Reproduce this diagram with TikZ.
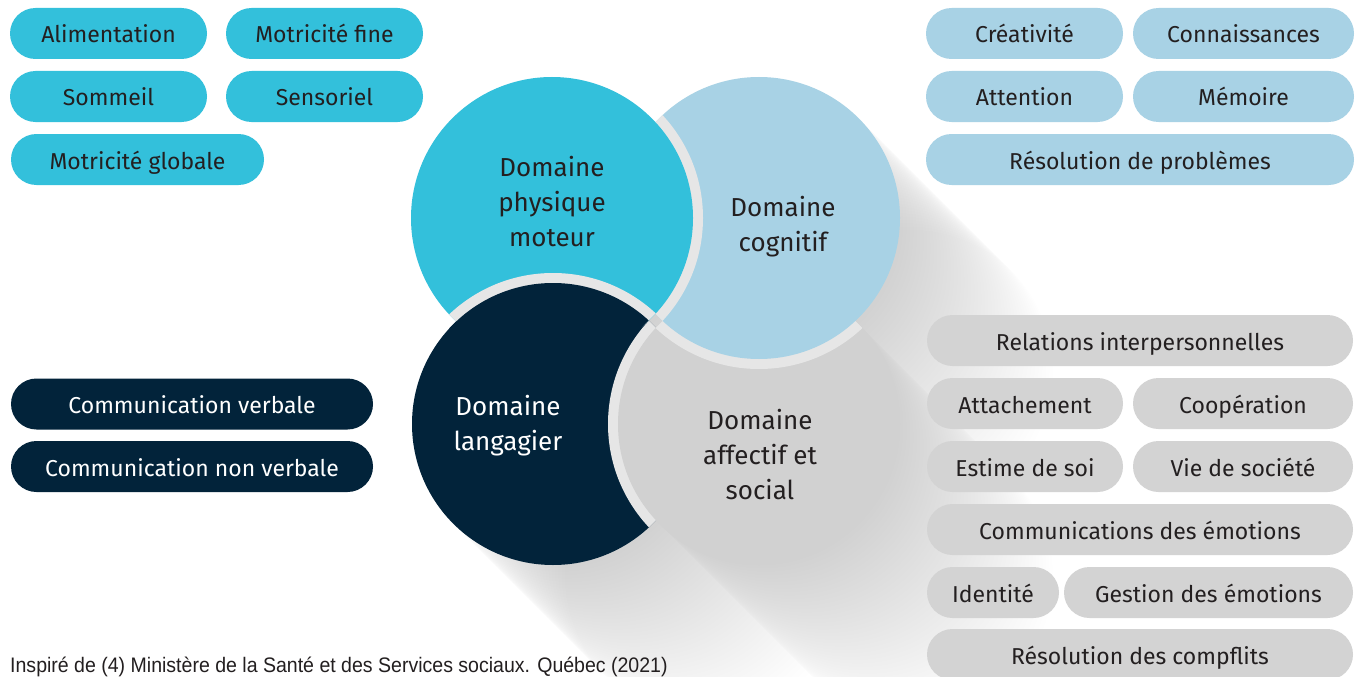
\documentclass[tikz,border=0pt]{standalone}
\usepackage{fontspec}
\setmainfont{Fira Sans}
\newfontfamily\capfont[FakeStretch=0.93]{Liberation Sans}
\definecolor{cyanc}{HTML}{33C0DB}
\definecolor{lbluec}{HTML}{A8D2E5}
\definecolor{navyc}{HTML}{02233A}
\definecolor{greyc}{HTML}{D1D1D1}
\definecolor{pillgrey}{HTML}{D3D3D3}
\definecolor{ringc}{HTML}{E6E6E6}
\definecolor{ink}{HTML}{231F20}
\newcommand\pillfont{\fontsize{23}{27}\selectfont}
\newcommand\domfont{\fontsize{26}{35}\selectfont}
\begin{document}
\begin{tikzpicture}[x=1pt,y=-1pt,
  pill/.style={rounded corners=25.5pt, minimum height=51pt, inner sep=0pt,
               text height=19pt, text depth=0pt,
               font=\pillfont, text=ink},
  phys/.style={pill, fill=cyanc},
  cogn/.style={pill, fill=lbluec},
  lang/.style={pill, fill=navyc, text=white},
  affe/.style={pill, fill=pillgrey},
  dom/.style={align=center, font=\domfont, text=ink, inner sep=0pt},
]
\useasboundingbox (0,0) rectangle (1355,677);
\clip (0,0) rectangle (1355,677);
\fill[white] (0,0) rectangle (1355,677);

% circle centres
\coordinate (cP) at (552,218);
\coordinate (cC) at (759,218);
\coordinate (cL) at (553,424);
\coordinate (cA) at (759,424);

% long diagonal shadow of the four circles
\foreach \k in {1,...,45}{
  \fill[black, fill opacity=0.0035, shift={(3.4*\k,3.4*\k)}]
    (552,218) circle[radius=141pt] (759,218) circle[radius=141pt]
    (553,424) circle[radius=141pt] (759,424) circle[radius=141pt];
}

% physical / motor items
\node[phys, minimum width=197pt] (alim)  at (108.5,33.5)  {Alimentation};
\node[phys, minimum width=197pt] (mfine) at (324.5,33.5)  {Motricité fine};
\node[phys, minimum width=197pt] (somm)  at (108.5,96.5)  {Sommeil};
\node[phys, minimum width=197pt] (sens)  at (324.5,96.5)  {Sensoriel};
\node[phys, minimum width=253pt] (mglob) at (137.5,159.5) {Motricité globale};

% cognitive items
\node[cogn, minimum width=197pt] (crea)  at (1024.5,33.5) {Créativité};
\node[cogn, minimum width=221pt] (conn)  at (1243.5,33.5) {Connaissances};
\node[cogn, minimum width=197pt] (att)   at (1024.5,96.5) {Attention};
\node[cogn, minimum width=221pt] (mem)   at (1243.5,96.5) {Mémoire};
\node[cogn, minimum width=428pt] (resp)  at (1140,159.5)  {Résolution de problèmes};

% language items
\node[lang, minimum width=362pt] (cverb) at (192,404)   {Communication verbale};
\node[lang, minimum width=362pt] (cnonv) at (192,466.5) {Communication non verbale};

% affective / social items
\node[affe, minimum width=426pt] (rel)    at (1140,340.5)   {Relations interpersonnelles};
\node[affe, minimum width=196pt] (attach) at (1025,403.5)   {Attachement};
\node[affe, minimum width=220pt] (coop)   at (1243,403.5)   {Coopération};
\node[affe, minimum width=196pt] (estime) at (1025,466.5)   {Estime de soi};
\node[affe, minimum width=220pt] (vie)    at (1243,466.5)   {Vie de société};
\node[affe, minimum width=426pt] (comem)  at (1140,529.5)   {Communications des émotions};
\node[affe, minimum width=132pt] (ident)  at (993,592.5)    {Identité};
\node[affe, minimum width=289pt] (gest)   at (1208.5,592.5) {Gestion des émotions};
\node[affe, minimum width=426pt] (rescf)  at (1140,654.5)   {Résolution des compflits};

% the four domains, each one overlapping the next in turn
\fill[navyc] (cL) circle[radius=141pt];
\begin{scope}
  \clip (cL) circle[radius=141pt];
  \fill[ringc] (cA) circle[radius=151pt];
\end{scope}
\fill[greyc] (cA) circle[radius=141pt];
\begin{scope}
  \clip (cA) circle[radius=141pt];
  \fill[ringc] (cC) circle[radius=151pt];
\end{scope}
\fill[lbluec] (cC) circle[radius=141pt];
\begin{scope}
  \clip (cC) circle[radius=141pt];
  \fill[ringc] (cP) circle[radius=151pt];
\end{scope}
\fill[cyanc] (cP) circle[radius=141pt];
% language domain laid back over the physical one
\begin{scope}
  \clip (0,0) -- (969,0) -- (0,969) -- cycle;
  \clip (cP) circle[radius=151pt];
  \begin{scope}
    \clip (cP) circle[radius=141pt];
    \fill[ringc] (cL) circle[radius=151pt];
  \end{scope}
  \fill[navyc] (cL) circle[radius=141pt];
\end{scope}

% domain labels
\node[dom] (tP) at (552,202)   {Domaine\\physique\\moteur};
\node[dom] (tC) at (783,227)   {Domaine\\cognitif};
\node[dom, text=white] (tL) at (508,426) {Domaine\\langagier};
\node[dom] (tA) at (760,454.5) {Domaine\\affectif et\\social};

% source line
\node[anchor=base west, inner sep=0pt, text=ink,
      font=\capfont\fontsize{21}{25}\selectfont] (src) at (10,672)
  {Inspiré de (4) Ministère de la Santé et des Services sociaux. Québec (2021)};
\end{tikzpicture}
\end{document}
